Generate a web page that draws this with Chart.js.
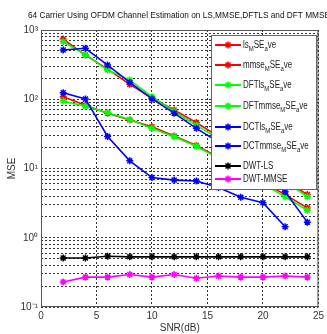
<!DOCTYPE html>
<html>
<head>
<meta charset="utf-8">
<script src="https://cdn.jsdelivr.net/npm/chart.js@4.4.1/dist/chart.umd.min.js"></script>
<style>
  html, body { margin: 0; padding: 0; background: #fff; }
  #wrap { width: 327px; height: 334px; }
</style>
</head>
<body>
<div id="wrap"><canvas id="mseChart" width="327" height="334"></canvas></div>
<script>
// --- Data ---
const snr = [2, 4, 6, 8, 10, 12, 14, 16, 18, 20, 22, 24];

const lsMse      = [740, 435, 273, 164, 104, 70, 46, 29, 18, 11, 6.8, 4.2];
const mmseMse    = [109, 82, 63, 50, 40, 29.4, 21.5, 14.5, 9.5, 6.3, 4.2, 2.7];
const dftLsMse   = [677, 440, 264, 189, 109, 67, 42, 27, 17, 10.5, 6.5, 3.9];
const dftMmseMse = [94, 79, 64, 51, 38, 28.7, 21, 14, 9.2, 6.0, 3.9, 2.5];
const dctLsMse   = [514, 544, 312, 175, 101, 63, 38, 24, 15, 8.8, 4.6, 1.68];
const dctMmseMse = [124, 101, 29, 12.9, 7.4, 6.8, 6.6, 5.3, 3.85, 3.2, 1.44, null];
const dwtLsMse   = [0.51, 0.51, 0.54, 0.53, 0.53, 0.53, 0.53, 0.53, 0.53, 0.53, 0.53, 0.53];
const dwtMmseMse = [0.23, 0.27, 0.27, 0.295, 0.27, 0.295, 0.26, 0.28, 0.27, 0.27, 0.28, 0.27];

const seriesNames = ['ls_MSE_ave', 'mmse_MSE_ave', 'DFTls_MSE_ave', 'DFTmmse_MSE_ave',
                     'DCTls_MSE_ave', 'DCTmmse_MSE_ave', 'DWT-LS', 'DWT-MMSE'];
const seriesColors = ['#ff0000', '#ff0000', '#00ff00', '#00ff00',
                      '#0000ff', '#0000ff', '#000000', '#ff00ff'];
const seriesValues = [lsMse, mmseMse, dftLsMse, dftMmseMse, dctLsMse, dctMmseMse, dwtLsMse, dwtMmseMse];

const xTicks = [0, 5, 10, 15, 20, 25];
const yMajorTicks = [0.1, 1, 10, 100, 1000];
const yTickLabels = ['10\u207B\u00B9', '10\u2070', '10\u00B9', '10\u00B2', '10\u00B3'];
const yMinorSteps = [2, 3, 4, 5, 6, 7, 8, 9];

const titleText = '64 Carrier Using OFDM Channel Estimation on LS,MMSE,DFTLS and DFT MMSE';
const xTitle = 'SNR(dB)';
const yTitle = 'MSE';

const FONT = '"Liberation Sans", Arial, sans-serif';

// all grid positions on the log axis (majors + 2..9 minors)
const yGridValues = [];
yMajorTicks.forEach((m, i) => {
    yGridValues.push(m);
    if (i < yMajorTicks.length - 1) yMinorSteps.forEach(s => yGridValues.push(+(m * s).toPrecision(3)));
});

// --- draw TeX-like text with "_x" subscripts ---
function drawSubText(ctx, str, x, y, size) {
    let i = 0;
    while (i < str.length) {
        if (str[i] === '_' && i + 1 < str.length) {
            ctx.font = (size * 0.75) + 'px ' + FONT;
            ctx.fillText(str[i + 1], x, y + size * 0.35);
            x += ctx.measureText(str[i + 1]).width;
            i += 2;
        } else {
            let j = i;
            while (j < str.length && str[j] !== '_') j++;
            const chunk = str.slice(i, j);
            ctx.font = size + 'px ' + FONT;
            ctx.fillText(chunk, x, y);
            x += ctx.measureText(chunk).width;
            i = j;
        }
    }
}

// --- Plugin: frame, title, legend ---
const matlabDecor = {
    id: 'matlabDecor',
    afterDraw(chart) {
        const ctx = chart.ctx;
        const a = chart.chartArea;
        ctx.save();

        // box around axes
        ctx.strokeStyle = '#555';
        ctx.lineWidth = 1;
        ctx.strokeRect(a.left + 0.5, a.top + 0.5, a.right - a.left - 1, a.bottom - a.top - 1);

        // title (narrow, runs off the right edge like the original)
        ctx.fillStyle = '#111';
        ctx.textBaseline = 'middle';
        ctx.textAlign = 'left';
        ctx.font = '9.5px ' + FONT;
        const tw = ctx.measureText(titleText).width;
        ctx.save();
        ctx.translate(28, 15.5);
        ctx.scale(302 / tw, 1);
        ctx.fillText(titleText, 0, 0);
        ctx.restore();

        // legend box
        const lx = 211, ly = 35, lw = 105, lh = 154;
        ctx.fillStyle = '#fff';
        ctx.fillRect(lx, ly, lw, lh);
        ctx.strokeStyle = '#666';
        ctx.strokeRect(lx + 0.5, ly + 0.5, lw, lh);

        const rowsY = [45, 65, 85, 106, 127, 146, 166, 179];
        seriesNames.forEach((name, i) => {
            const yy = rowsY[i];
            ctx.strokeStyle = seriesColors[i];
            ctx.lineWidth = 2;
            ctx.beginPath();
            ctx.moveTo(215, yy);
            ctx.lineTo(241, yy);
            ctx.stroke();
            // star marker
            ctx.lineWidth = 1.5;
            ctx.beginPath();
            ctx.moveTo(228, yy - 3.5); ctx.lineTo(228, yy + 3.5);
            ctx.moveTo(224.5, yy); ctx.lineTo(231.5, yy);
            ctx.moveTo(225.5, yy - 2.5); ctx.lineTo(230.5, yy + 2.5);
            ctx.moveTo(230.5, yy - 2.5); ctx.lineTo(225.5, yy + 2.5);
            ctx.stroke();
            ctx.fillStyle = '#222';
            ctx.save();
            ctx.translate(243, yy);
            ctx.scale(0.8, 1);
            drawSubText(ctx, name, 0, 0, 10);
            ctx.restore();
        });
        ctx.restore();
    }
};

const datasets = seriesNames.map((name, i) => ({
    label: name,
    data: snr.map((x, k) => ({ x: x, y: seriesValues[i][k] })),
    borderColor: seriesColors[i],
    backgroundColor: seriesColors[i],
    borderWidth: 1.6,
    pointStyle: 'star',
    pointRadius: 3.5,
    pointBorderWidth: 1.5,
    fill: false,
    tension: 0,
    spanGaps: false,
    order: seriesNames.length - i
}));

new Chart(document.getElementById('mseChart').getContext('2d'), {
    type: 'line',
    data: { datasets: datasets },
    plugins: [matlabDecor],
    options: {
        responsive: false,
        animation: false,
        layout: { padding: { top: 30, right: 8, left: 0, bottom: 0 } },
        plugins: {
            legend: { display: false },
            title: { display: false },
            tooltip: { enabled: false }
        },
        scales: {
            x: {
                type: 'linear',
                min: 0,
                max: 25,
                afterBuildTicks: (scale) => { scale.ticks = xTicks.map(v => ({ value: v })); },
                afterFit: (scale) => { scale.height = 27; },
                ticks: { color: '#333', font: { family: FONT, size: 10 }, padding: 3, maxRotation: 0 },
                grid: { color: '#333', lineWidth: 1, drawTicks: false },
                border: { display: false, dash: [2, 2] },
                title: { display: true, text: xTitle, color: '#333', font: { family: FONT, size: 10 }, padding: { top: 0, bottom: 0 } }
            },
            y: {
                type: 'logarithmic',
                min: 0.1,
                max: 1000,
                afterBuildTicks: (scale) => { scale.ticks = yGridValues.map(v => ({ value: v })); },
                afterFit: (scale) => { scale.width = 41; },
                ticks: {
                    color: '#333',
                    font: { family: FONT, size: 10 },
                    padding: 3,
                    autoSkip: false,
                    callback: (v) => {
                        const k = yMajorTicks.indexOf(v);
                        return k >= 0 ? yTickLabels[k] : '';
                    }
                },
                grid: { color: '#333', lineWidth: 1, drawTicks: false },
                border: { display: false, dash: [2, 2] },
                title: { display: true, text: yTitle, color: '#333', font: { family: FONT, size: 10 }, padding: { top: 6, bottom: 0 } }
            }
        }
    }
});
</script>
</body>
</html>
